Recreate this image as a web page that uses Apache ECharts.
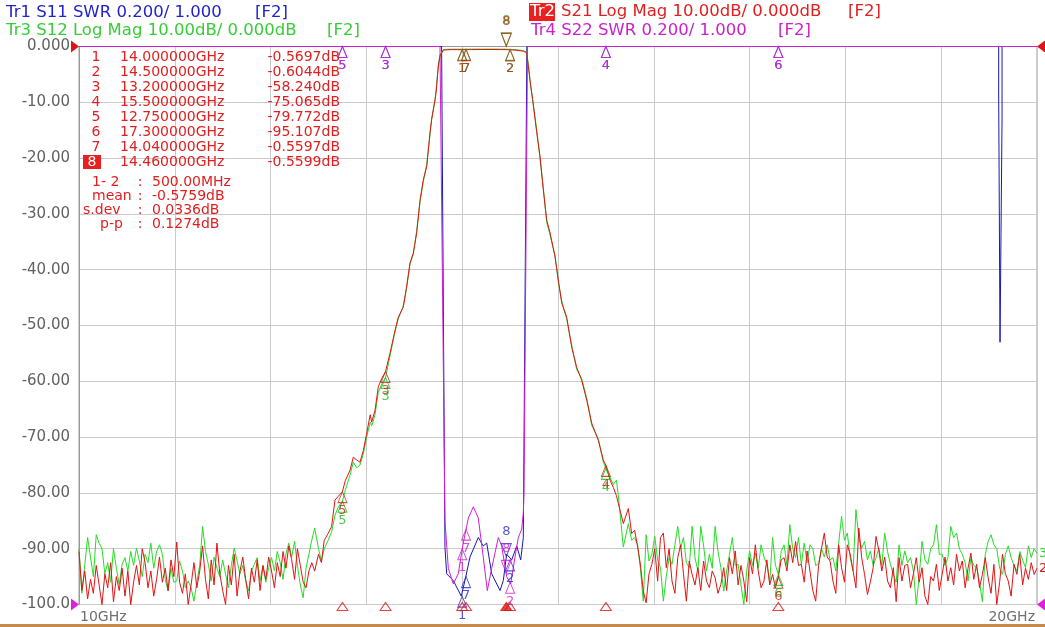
<!DOCTYPE html>
<html><head><meta charset="utf-8">
<script src="https://cdn.jsdelivr.net/npm/echarts@6/dist/echarts.min.js"></script>
<style>html,body{margin:0;padding:0;background:#fff;overflow:hidden}#c{width:1045px;height:627px}</style>
</head><body><div id="c"></div>
<script>
// ---------- DATA ----------
const NOISE_STEP = 0.03;            // GHz, sweep spacing of the noise-floor readings
const LEFT_START = 10.00;
const RIGHT_START = 15.80;

const s21LeftNoise = [
 -90.5,-97.5,-94.0,-99.0,-95.5,-98.0,-93.0,-96.5,-100,-94.5,
 -97.0,-92.5,-99.5,-95.0,-97.5,-93.5,-98.5,-94.0,-100,-96.0,
 -93.0,-96.5,-90.0,-92.5,-97.0,-94.0,-98.5,-95.5,-91.5,-96.0,
 -93.5,-97.5,-92.0,-95.0,-88.8,-96.0,-98.0,-94.5,-100,-96.5,
 -92.5,-97.0,-94.0,-89.5,-95.5,-99.0,-92.0,-96.5,-89.0,-94.5,
 -97.5,-100,-93.0,-96.5,-91.0,-98.5,-94.0,-91.5,-95.5,-99.0,
 -93.5,-96.0,-92.0,-97.5,-93.0,-95.5,-91.5,-94.0,-97.0,-92.5,
 -95.0,-90.5,-93.5,-89.5,-92.0,-95.5,-90.0,-93.0,-96.0,-97.0,
 -94.0,-92.5];
const s12LeftNoise = [
 -90.0,-98.0,-93.0,-88.0,-91.5,-95.0,-87.5,-89.0,-90.0,-94.5,
 -92.5,-96.0,-90.0,-93.5,-96.4,-92.8,-91.6,-94.0,-90.5,-93.0,
 -89.9,-92.2,-95.0,-91.0,-92.5,-89.0,-93.5,-90.5,-89.3,-91.0,
 -95.5,-97.6,-93.5,-96.0,-95.8,-92.2,-94.0,-97.0,-95.8,-97.0,
 -99.4,-96.0,-93.0,-86.0,-90.5,-92.8,-95.8,-91.5,-93.5,-95.0,
 -92.0,-94.6,-97.0,-93.0,-89.9,-92.2,-94.5,-93.0,-95.8,-97.6,
 -94.0,-92.8,-91.6,-95.8,-93.0,-96.0,-93.4,-91.6,-94.0,-90.5,
 -92.5,-95.5,-91.0,-89.0,-91.5,-88.7,-93.0,-96.5,-98.8,-93.5,
 -91.0,-88.5];

const skirtF = [12.46,12.50,12.53,12.56,12.60,12.637,12.672,12.707,12.75,12.78,12.83,12.863,12.90,12.933,12.968,13.003,13.04,13.055,13.09,13.124,13.16,13.20,13.246,13.30,13.333,13.385,13.42,13.455,13.49,13.525,13.56,13.594,13.63,13.664,13.681,13.716,13.727,13.751,13.768,13.803,13.85,13.90,13.95,14.00,14.04,14.10,14.20,14.30,14.40,14.46,14.50,14.55,14.603,14.64,14.673,14.69,14.715,14.736,14.778,14.812,14.847,14.882,14.917,14.969,15.003,15.039,15.091,15.143,15.195,15.247,15.30,15.352,15.421,15.473,15.50,15.543,15.577,15.61,15.63,15.682,15.734,15.769];
const s21Skirt = [-94.0,-91.0,-92.5,-88.5,-87.3,-86.0,-81.3,-80.6,-79.77,-77.8,-75.9,-73.6,-74.1,-74.5,-72.4,-69.3,-66.0,-67.3,-65.2,-61.0,-59.5,-58.24,-55.0,-50.8,-48.5,-46.7,-43.0,-38.8,-37.0,-33.4,-27.5,-23.9,-21.5,-15.4,-13.1,-9.5,-8.3,-3.5,-1.7,-0.65,-0.58,-0.56,-0.57,-0.5697,-0.5597,-0.55,-0.54,-0.54,-0.55,-0.5599,-0.6044,-0.64,-0.75,-0.85,-1.1,-3.5,-7.1,-9.5,-15.4,-19.7,-25.7,-31.1,-33.4,-37.7,-41.8,-46.0,-48.5,-53.9,-57.5,-59.8,-63.4,-67.5,-70.6,-74.1,-75.065,-77.7,-79.0,-80.5,-81.9,-85.5,-82.8,-87.3];
const s12Skirt = [-86.3,-90.0,-92.2,-90.0,-88.5,-87.0,-84.0,-82.5,-81.5,-79.5,-76.8,-74.5,-75.5,-75.0,-73.0,-70.0,-67.3,-68.0,-66.0,-62.0,-60.5,-59.3,-55.5,-51.0,-48.8,-46.5,-43.3,-39.0,-37.2,-33.0,-27.8,-24.2,-21.0,-15.8,-13.0,-9.8,-8.0,-3.3,-1.5,-0.55,-0.5,-0.48,-0.48,-0.49,-0.48,-0.47,-0.46,-0.46,-0.47,-0.48,-0.52,-0.56,-0.66,-0.78,-1.0,-3.2,-7.0,-9.8,-15.0,-20.0,-25.4,-31.5,-33.8,-37.4,-42.2,-45.6,-48.9,-53.5,-57.9,-59.5,-63.0,-67.9,-70.3,-74.5,-75.6,-77.2,-78.5,-77.7,-80.5,-89.7,-85.5,-88.5];

const s21RightNoise = [
 -86.7,-89.5,-92.8,-97.6,-99.7,-94.5,-92.8,-90.0,-95.8,-88.0,
 -87.2,-93.4,-90.0,-95.8,-98.0,-91.6,-89.3,-94.5,-99.4,-92.2,
 -94.6,-96.5,-93.4,-97.5,-92.2,-95.8,-97.0,-94.0,-95.2,-98.0,
 -96.4,-93.4,-97.5,-91.6,-94.5,-90.4,-96.5,-93.0,-95.8,-99.5,
 -91.6,-94.5,-89.3,-94.0,-97.0,-95.8,-92.0,-96.5,-94.6,-97.0,
 -95.1,-92.0,-91.6,-94.0,-89.3,-92.5,-88.7,-93.0,-92.8,-96.0,
 -90.4,-94.0,-97.5,-99.4,-93.0,-90.0,-87.2,-91.5,-92.2,-95.8,
 -98.0,-89.3,-93.4,-96.0,-89.3,-91.0,-94.0,-97.0,-86.3,-91.6,
 -94.6,-98.2,-96.0,-93.4,-87.8,-90.4,-94.0,-91.5,-95.8,-97.0,
 -93.4,-99.5,-91.6,-95.8,-93.0,-92.8,-97.0,-94.5,-91.6,-96.0,
 -93.4,-98.5,-100,-95.0,-95.8,-92.8,-97.5,-94.6,-91.5,-95.8,
 -93.4,-96.5,-91.0,-94.0,-92.2,-97.0,-93.5,-90.8,-95.5,-92.8,
 -97.0,-94.6,-91.6,-95.2,-98.0,-92.8,-100,-96.0,-91.0,-94.5,
 -95.8,-98.5,-92.8,-94.6,-91.0,-96.5,-93.5,-95.5,-92.5,-94.6,
 -93.5];
const s12RightNoise = [
 -88.0,-89.3,-93.5,-99.4,-87.5,-92.2,-91.0,-87.8,-92.0,-93.4,
 -99.4,-95.0,-91.6,-92.8,-89.3,-86.0,-90.0,-88.0,-92.5,-93.4,
 -86.0,-91.6,-94.0,-86.0,-89.5,-94.0,-91.0,-93.5,-86.0,-90.5,
 -93.4,-97.6,-94.0,-91.0,-88.0,-93.0,-92.8,-96.5,-100,-94.0,
 -90.4,-93.0,-90.8,-93.5,-89.3,-91.5,-92.8,-96.0,-88.0,-93.0,
 -94.6,-90.5,-89.3,-93.0,-85.7,-90.0,-91.6,-88.0,-92.8,-89.0,
 -92.5,-89.3,-90.0,-93.0,-92.8,-90.0,-91.5,-89.3,-92.0,-91.6,
 -94.0,-89.0,-84.2,-88.5,-87.2,-91.6,-94.0,-83.0,-88.0,-89.9,
 -88.7,-92.0,-90.4,-93.0,-91.6,-89.9,-93.0,-87.2,-90.5,-92.8,
 -94.6,-96.0,-89.3,-93.0,-90.4,-92.5,-91.6,-94.0,-100,-95.0,
 -88.7,-92.0,-92.8,-90.0,-89.3,-85.7,-91.0,-91.0,-93.0,-91.6,
 -86.0,-88.0,-87.2,-90.0,-91.0,-92.5,-95.8,-91.6,-93.0,-93.4,
 -96.0,-99.5,-91.0,-88.7,-87.5,-89.3,-90.0,-93.5,-94.6,-91.0,
 -89.5,-91.6,-93.0,-94.0,-90.5,-92.0,-93.4,-89.5,-91.6,-90.0,
 -90.8];

// SWR traces (0.200/div, 1.000 at bottom; 3.0 = top of screen)
const s11F = [10.0,13.785,13.82,13.838,13.907,13.99,14.029,14.081,14.168,14.22,14.256,14.308,14.395,14.429,14.464,14.517,14.569,14.611,14.638,14.675,19.600,19.600,19.614,19.635,19.635,20.0];
const s11V = [3.0,3.0,1.204,1.11,1.086,1.03,1.086,1.17,1.24,1.21,1.22,1.11,1.05,1.086,1.18,1.16,1.21,1.16,1.24,3.0,3.0,2.83,1.94,2.74,3.0,3.0];
const s22F = [10.0,13.768,13.82,13.855,13.907,13.959,14.011,14.064,14.116,14.168,14.22,14.262,14.308,14.377,14.412,14.464,14.506,14.551,14.586,14.621,14.638,14.645,14.682,20.0];
const s22V = [3.0,3.0,1.30,1.13,1.074,1.11,1.22,1.31,1.35,1.31,1.17,1.05,1.13,1.24,1.21,1.10,1.074,1.17,1.24,1.27,1.33,1.40,3.0,3.0];

// Markers
const markerNo  = [1,2,3,4,5,6,7,8];
const markerF   = [14.0,14.5,13.2,15.5,12.75,17.3,14.04,14.46];
const markerS21 = [-0.5697,-0.6044,-58.240,-75.065,-79.772,-95.107,-0.5597,-0.5599];
const markerS12 = [-0.49,-0.52,-59.3,-75.6,-81.5,-94.6,-0.48,-0.48];
const markerS11 = [1.03,1.16,3.0,3.0,3.0,3.0,1.10,1.16];
const markerS22 = [1.20,1.08,3.0,3.0,3.0,3.0,1.27,1.10];
const activeMarker = 8;
const statLabels = ['1- 2','mean','s.dev','p-p'];
const statValues = ['500.00MHz','-0.5759dB','0.0336dB','0.1274dB'];
const xTickLabels = ['10GHz','20GHz'];

// ---------- CHART ----------
const FONT = '"DejaVu Sans", Verdana, sans-serif';
const C21 = '#e01414', C12 = '#26dc26', C11 = '#1818b4', C22 = '#d21ed2';
const chart = echarts.init(document.getElementById('c'));
const pairs = (fs, vs) => fs.map((f, i) => [f, vs[i]]);
const noise = (start, vs) => vs.map((v, i) => [+(start + i * NOISE_STEP).toFixed(3), v]);
const s21Data = noise(LEFT_START, s21LeftNoise).concat(pairs(skirtF, s21Skirt), noise(RIGHT_START, s21RightNoise));
const s12Data = noise(LEFT_START, s12LeftNoise).concat(pairs(skirtF, s12Skirt), noise(RIGHT_START, s12RightNoise));

function lineS(name, data, color, yAxisIndex, endText) {
  const s = {name, type:'line', data, yAxisIndex, symbol:'none', silent:true, animation:false,
    lineStyle:{color, width:1}, itemStyle:{color}};
  if (endText) s.endLabel = {show:true, formatter:endText, color, fontSize:13, fontFamily:FONT, distance:2};
  return s;
}
function markerS(vals, color, yAxisIndex) {
  return {type:'scatter', yAxisIndex, silent:true, clip:false, animation:false, z:5,
    symbol:'triangle', symbolSize:[9,11],
    itemStyle:{color:'rgba(0,0,0,0)', borderColor:color, borderWidth:1},
    label:{show:true, color, fontSize:13, fontFamily:FONT, distance:1,
      formatter:p => String(markerNo[p.dataIndex])},
    data: markerF.map((f, i) => {
      const act = markerNo[i] === activeMarker;
      return {value:[f, vals[i]], symbolRotate: act ? 180 : 0,
        symbolSize: act ? [10,13] : [9,11],
        symbolOffset: act ? [0, '-75%'] : [0, '50%'],
        label:{position: act ? 'top' : 'bottom', distance: act ? 5 : 1}};
    })};
}
const stimS = {type:'scatter', yAxisIndex:0, silent:true, clip:false, animation:false, z:6,
  symbol:'triangle', symbolSize:[11,8], symbolOffset:[0,2],
  data: markerF.map((f, i) => ({value:[f, -100],
    itemStyle:{color: markerNo[i] === activeMarker ? C21 : 'rgba(0,0,0,0)', borderColor:C21, borderWidth:1}}))};

const option = {
  animation:false,
  backgroundColor:'#fff',
  grid:{left:79, right:8, top:46.5, bottom:22.5, show:true, borderColor:'#9a9a9a', borderWidth:1, backgroundColor:'#fff'},
  xAxis:{type:'value', min:10, max:20, interval:1,
    axisLabel:{show:false}, axisTick:{show:false},
    axisLine:{show:true, lineStyle:{color:'#9a9a9a'}},
    splitLine:{show:true, lineStyle:{color:'#cacaca', width:1}}},
  yAxis:[
    {type:'value', min:-100, max:0, interval:10,
      axisLabel:{formatter:v => v.toPrecision(4), color:'#616161', fontSize:15, fontFamily:FONT, margin:9},
      axisTick:{show:false}, axisLine:{show:true, lineStyle:{color:'#9a9a9a'}},
      splitLine:{show:true, lineStyle:{color:'#cacaca', width:1}}},
    {type:'value', min:1, max:3, show:false, splitLine:{show:false}}
  ],
  series:[
    lineS('S11', pairs(s11F, s11V), C11, 1),
    lineS('S22', pairs(s22F, s22V), C22, 1),
    lineS('S12', s12Data, C12, 0, '3'),
    lineS('S21', s21Data, C21, 0, '2'),
    markerS(markerS11, '#2a2ad0', 1),
    markerS(markerS22, C22, 1),
    markerS(markerS12, '#22bb22', 0),
    markerS(markerS21, '#b83010', 0),
    stimS
  ]
};
chart.setOption(option);

// ---------- TEXT / DECORATION ----------
const g = [];
function T(x, y, text, color, size, align) {
  g.push({type:'text', x, y, silent:true, z:10,
    style:{text, fill:color, font: size + 'px ' + FONT, textAlign: align || 'left', textVerticalAlign:'middle'}});
}
function R(x, y, w, h, color) { g.push({type:'rect', silent:true, z:9, shape:{x, y, width:w, height:h}, style:{fill:color}}); }
function P(pts, color) { g.push({type:'polygon', silent:true, z:11, shape:{points:pts}, style:{fill:color}}); }

// headers
const HF = 16.5;
T(6, 13, 'Tr1 S11 SWR 0.200/ 1.000', '#2323c8', HF);  T(255, 13, '[F2]', '#2323c8', HF);
T(6, 31, 'Tr3 S12 Log Mag 10.00dB/ 0.000dB', '#38cc38', HF);  T(327, 31, '[F2]', '#38cc38', HF);
R(529, 3, 26, 18, '#e82020');
T(530, 12, 'Tr2', '#fff', HF);
T(561, 12, 'S21 Log Mag 10.00dB/ 0.000dB', '#e02020', HF);  T(848, 12, '[F2]', '#e02020', HF);
T(531, 31, 'Tr4 S22 SWR 0.200/ 1.000', '#c822cc', HF);  T(778, 31, '[F2]', '#c822cc', HF);

// marker table
const TC = '#e02020';
markerNo.forEach((n, i) => {
  const y = 57 + 15 * i;
  if (n === activeMarker) { R(83, y - 7, 18, 14, '#e82020'); T(92, y, String(n), '#fff', 14, 'center'); }
  else T(96, y, String(n), TC, 14, 'center');
  T(120, y, markerF[i].toFixed(6) + 'GHz', TC, 14);
  const v = markerS21[i];
  T(340, y, (Math.abs(v) < 10 ? v.toFixed(4) : v.toFixed(3)) + 'dB', TC, 14, 'right');
});
const statX = [92, 92, 83, 100];
statLabels.forEach((l, i) => {
  const y = 182 + 14 * i;
  T(statX[i], y, l, TC, 14);
  T(140, y, ':', TC, 14, 'center');
  T(152, y, statValues[i], TC, 14);
});

// x labels
T(80, 617, xTickLabels[0], '#707070', 14);
T(1035, 617, xTickLabels[1], '#707070', 14, 'right');

// bottom strip
R(0, 624, 1045, 3, '#c68a4c');

// reference position arrows
const tl = chart.convertToPixel({gridIndex:0}, [10, 0]);
const bl = chart.convertToPixel({gridIndex:0}, [10, -100]);
const tr = chart.convertToPixel({gridIndex:0}, [20, 0]);
const br = chart.convertToPixel({gridIndex:0}, [20, -100]);
P([[tl[0]-8, tl[1]-6], [tl[0], tl[1]], [tl[0]-8, tl[1]+6]], '#e01414');
P([[bl[0]-8, bl[1]-6], [bl[0], bl[1]], [bl[0]-8, bl[1]+6]], '#e020e0');
P([[tr[0], tr[1]], [tr[0]+8, tr[1]-6], [tr[0]+8, tr[1]+6]], '#e01414');
P([[br[0], br[1]], [br[0]+8, br[1]-6], [br[0]+8, br[1]+6]], '#e020e0');

chart.setOption({graphic:{elements:g}});
</script>
</body></html>
